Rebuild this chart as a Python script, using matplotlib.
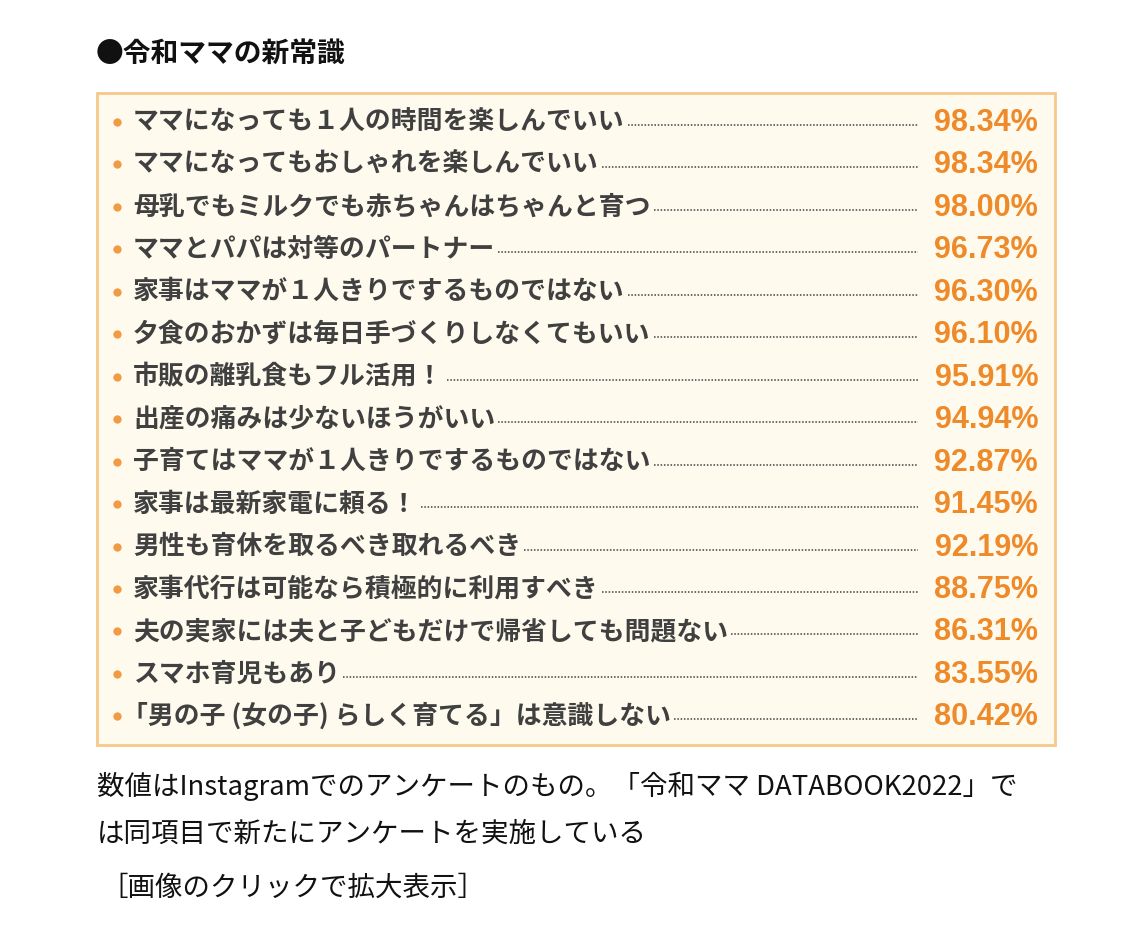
import matplotlib
matplotlib.use("Agg")
import matplotlib.pyplot as plt
from matplotlib.patches import Rectangle

plt.rcParams['font.family'] = ['Noto Sans CJK JP', 'DejaVu Sans']

title = "●令和ママの新常識"
labels = [
    "ママになっても１人の時間を楽しんでいい",
    "ママになってもおしゃれを楽しんでいい",
    "母乳でもミルクでも赤ちゃんはちゃんと育つ",
    "ママとパパは対等のパートナー",
    "家事はママが１人きりでするものではない",
    "夕食のおかずは毎日手づくりしなくてもいい",
    "市販の離乳食もフル活用！",
    "出産の痛みは少ないほうがいい",
    "子育てはママが１人きりでするものではない",
    "家事は最新家電に頼る！",
    "男性も育休を取るべき取れるべき",
    "家事代行は可能なら積極的に利用すべき",
    "夫の実家には夫と子どもだけで帰省しても問題ない",
    "スマホ育児もあり",
    "「男の子 (女の子) らしく育てる」は意識しない",
]
values = [98.34, 98.34, 98.00, 96.73, 96.30, 96.10, 95.91, 94.94,
          92.87, 91.45, 92.19, 88.75, 86.31, 83.55, 80.42]
caption_lines = [
    "数値はInstagramでのアンケートのもの。「令和ママ DATABOOK2022」で",
    "は同項目で新たにアンケートを実施している",
]
link_text = "［画像のクリックで拡大表示］"

W, H = 1128, 952
fig = plt.figure(figsize=(W / 100, H / 100), dpi=100)
ax = fig.add_axes([0, 0, 1, 1])
ax.set_xlim(0, W)
ax.set_ylim(H, 0)
ax.axis('off')
fig.patch.set_facecolor('white')

orange = '#EE8A2A'
gray = '#404040'

# title
ax.text(96, 54, title, fontsize=20, fontweight='bold', color='#111111',
        va='center', ha='left')

# box
ax.add_patch(Rectangle((97, 93), 958, 652, facecolor='#FEFBEE',
                       edgecolor='#F6C88C', linewidth=2))

fig.canvas.draw()
renderer = fig.canvas.get_renderer()
inv = ax.transData.inverted()

y0, dy = 122, 42.45
for i, (lab, v) in enumerate(zip(labels, values)):
    y = y0 + i * dy
    ax.plot([117], [y], marker='o', markersize=6, color='#F29B45',
            markeredgewidth=0)
    xstart = 122 if lab.startswith("「") else 133
    t = ax.text(xstart, y, lab, fontsize=18.6, fontweight='bold', color=gray,
                va='center', ha='left')
    ax.text(1038, y + 1, f"{v:.2f}%", fontsize=22, fontweight='bold',
            color=orange, va='center', ha='right', family='Liberation Sans')
    bb = t.get_window_extent(renderer)
    xend = inv.transform((bb.x1, bb.y0))[0]
    ax.plot([xend + 3, 918], [y + 3, y + 3], linestyle=(0, (0.8, 0.9)),
            color='#6a6a6a', linewidth=1.4)

# captions
ax.text(97, 786, caption_lines[0], fontsize=19.8, color='#111111',
        va='center', ha='left')
ax.text(97, 834, caption_lines[1], fontsize=19.8, color='#111111',
        va='center', ha='left')
ax.text(100, 888, link_text, fontsize=19.8, color='#111111',
        va='center', ha='left')

fig.savefig("out.png", dpi=100)
